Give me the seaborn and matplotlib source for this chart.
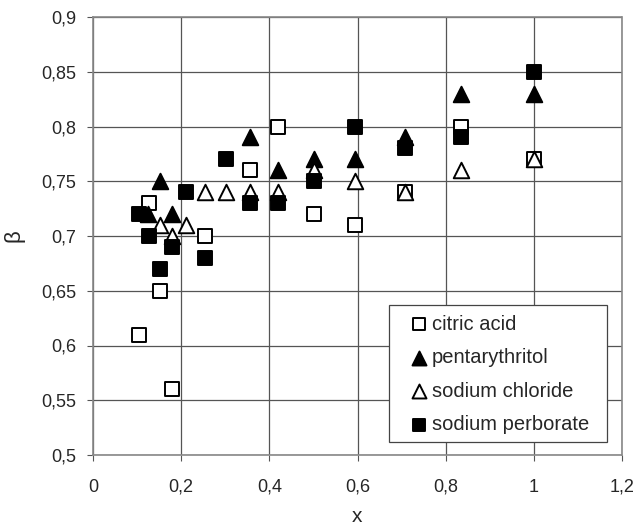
import matplotlib
matplotlib.use("Agg")
import matplotlib.pyplot as plt
import seaborn as sns
import pandas as pd
from matplotlib.ticker import FuncFormatter
from matplotlib.patches import Rectangle

# ---- data ----
citric_x = [0.104, 0.127, 0.152, 0.179, 0.253, 0.356, 0.419, 0.501, 0.594, 0.708, 0.834, 1.0]
citric_y = [0.61, 0.73, 0.65, 0.56, 0.70, 0.76, 0.80, 0.72, 0.71, 0.74, 0.80, 0.77]

penta_x = [0.125, 0.152, 0.179, 0.356, 0.419, 0.501, 0.594, 0.708, 0.834, 1.0]
penta_y = [0.72, 0.75, 0.72, 0.79, 0.76, 0.77, 0.77, 0.79, 0.83, 0.83]

nacl_x = [0.152, 0.179, 0.211, 0.253, 0.302, 0.356, 0.419, 0.501, 0.594, 0.708, 0.834, 1.0]
nacl_y = [0.71, 0.70, 0.71, 0.74, 0.74, 0.74, 0.74, 0.76, 0.75, 0.74, 0.76, 0.77]

perb_x = [0.104, 0.127, 0.152, 0.179, 0.211, 0.253, 0.302, 0.356, 0.419, 0.501, 0.594, 0.708, 0.834, 1.0]
perb_y = [0.72, 0.70, 0.67, 0.69, 0.74, 0.68, 0.77, 0.73, 0.73, 0.75, 0.80, 0.78, 0.79, 0.85]

series_names = ["citric acid", "pentarythritol", "sodium chloride", "sodium perborate"]
x_ticks = [0, 0.2, 0.4, 0.6, 0.8, 1.0, 1.2]
y_ticks = [0.5, 0.55, 0.6, 0.65, 0.7, 0.75, 0.8, 0.85, 0.9]

series = {
    "citric acid": (citric_x, citric_y),
    "pentarythritol": (penta_x, penta_y),
    "sodium chloride": (nacl_x, nacl_y),
    "sodium perborate": (perb_x, perb_y),
}
df = pd.concat(
    [pd.DataFrame({"x": v[0], "beta": v[1], "series": k}) for k, v in series.items()],
    ignore_index=True,
)

sns.set_style("white")
plt.rcParams["font.family"] = ["Liberation Sans", "DejaVu Sans"]

fig = plt.figure(figsize=(6.37, 5.26), dpi=100)
ax = fig.add_axes([93 / 637, 1 - 455 / 526, 529 / 637, 438 / 526])

styles = {
    "citric acid": dict(marker="s", facecolor="white", s=100),
    "pentarythritol": dict(marker="^", facecolor="black", s=125),
    "sodium chloride": dict(marker="^", facecolor="white", s=125),
    "sodium perborate": dict(marker="s", facecolor="black", s=100),
}

for name in series_names:
    st = styles[name]
    sub = df[df["series"] == name]
    sns.scatterplot(data=sub, x="x", y="beta", ax=ax, marker=st["marker"],
                    s=st["s"], color=st["facecolor"], edgecolor="black",
                    linewidth=1.4, label=name, zorder=3)

ax.set_xlim(0, 1.2)
ax.set_ylim(0.5, 0.9)
ax.set_xticks(x_ticks)
ax.set_yticks(y_ticks)

def comma_fmt(v, pos):
    s = ("%.2f" % v).rstrip("0").rstrip(".")
    return s.replace(".", ",")

ax.xaxis.set_major_formatter(FuncFormatter(comma_fmt))
ax.yaxis.set_major_formatter(FuncFormatter(comma_fmt))

ax.grid(True, color="#555555", linewidth=0.9, zorder=0)
ax.set_axisbelow(True)
for sp in ax.spines.values():
    sp.set_color("#888888")
    sp.set_linestyle((0, (1, 1)))
    sp.set_linewidth(1.2)

ax.tick_params(axis="x", which="major", labelsize=13, direction="out",
               length=4, width=0.8, color="#555555", pad=13, bottom=True)
ax.tick_params(axis="y", which="major", labelsize=13, direction="out",
               length=4, width=0.8, color="#555555", pad=8, left=True)
ax.set_xlabel("x", fontsize=15, labelpad=8)
ax.set_ylabel("β", fontsize=16, labelpad=12)

# legend box (drawn in axes coordinates) and legend entries
box_l, box_r = (389 - 93) / 529, (607 - 93) / 529
box_b, box_t = (455 - 442) / 438, (455 - 305) / 438
ax.add_patch(Rectangle((box_l, box_b), box_r - box_l, box_t - box_b,
                       transform=ax.transAxes, facecolor="white",
                       edgecolor="#444444", linewidth=0.9, zorder=5))

leg = ax.legend(loc="upper left", bbox_to_anchor=(box_l, box_t), frameon=False,
                fontsize=14.5, handlelength=2.0, handletextpad=-0.35,
                labelspacing=0.72, borderpad=0.48, borderaxespad=0.0,
                markerscale=0.9)
leg.set_zorder(6)

fig.savefig("out.png", dpi=100)
